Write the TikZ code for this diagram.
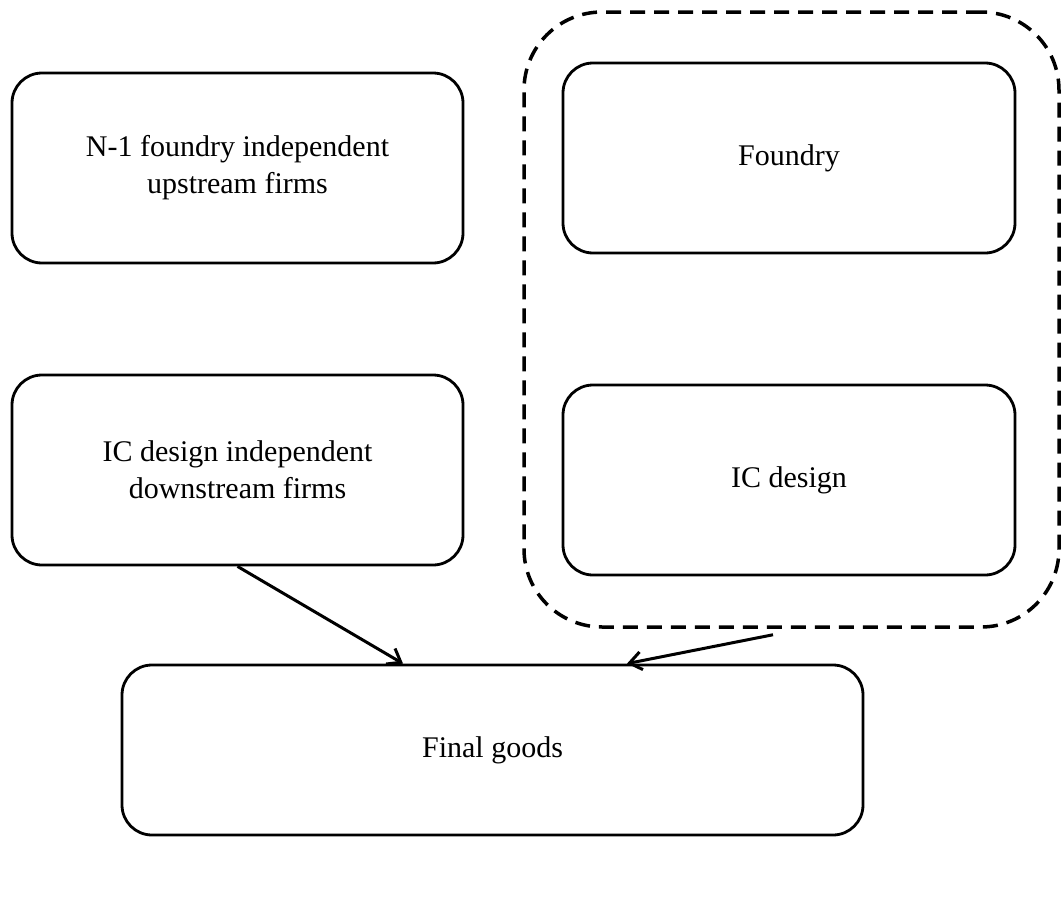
\documentclass[tikz,border=0pt]{standalone}
\usepackage{fontspec}
\setmainfont{Liberation Serif}
\usetikzlibrary{arrows.meta}
\begin{document}
\begin{tikzpicture}[x=1pt,y=-1pt,
  box/.style={draw=black,line width=2.8pt,rounded corners=30pt,align=center,
    font=\fontsize{30}{37}\selectfont,inner sep=0pt},
  group/.style={draw=black,line width=3.5pt,dash pattern=on 15pt off 9pt,rounded corners=78pt},
  link/.style={line width=3pt,-{Straight Barb[length=12pt,width=18pt,line width=3pt]}}]
  \useasboundingbox (0,0) rectangle (1061,910);
  % firm boxes
  \node[box,minimum width=451pt,minimum height=190pt] (up) at (237.5,168) {N-1 foundry independent\\upstream firms};
  \node[box,minimum width=451pt,minimum height=190pt] (down) at (237.5,470) {IC design independent\\downstream firms};
  \node[box,minimum width=452pt,minimum height=190pt] (foundry) at (789,158) {Foundry};
  \node[box,minimum width=452pt,minimum height=190pt] (icd) at (789,480) {IC design};
  \node[box,minimum width=741pt,minimum height=170pt] (final) at (492.5,750) {Final goods};
  % integrated firm
  \node[group,minimum width=535pt,minimum height=615pt] (integ) at (791.5,319.5) {};
  % flows into final goods
  \draw[link] (down.south) -- ([xshift=-89.5pt]final.north);
  \draw[link] ([xshift=-18.5pt,yshift=-6pt]integ.south) -- ([xshift=134.5pt]final.north);
\end{tikzpicture}
\end{document}
